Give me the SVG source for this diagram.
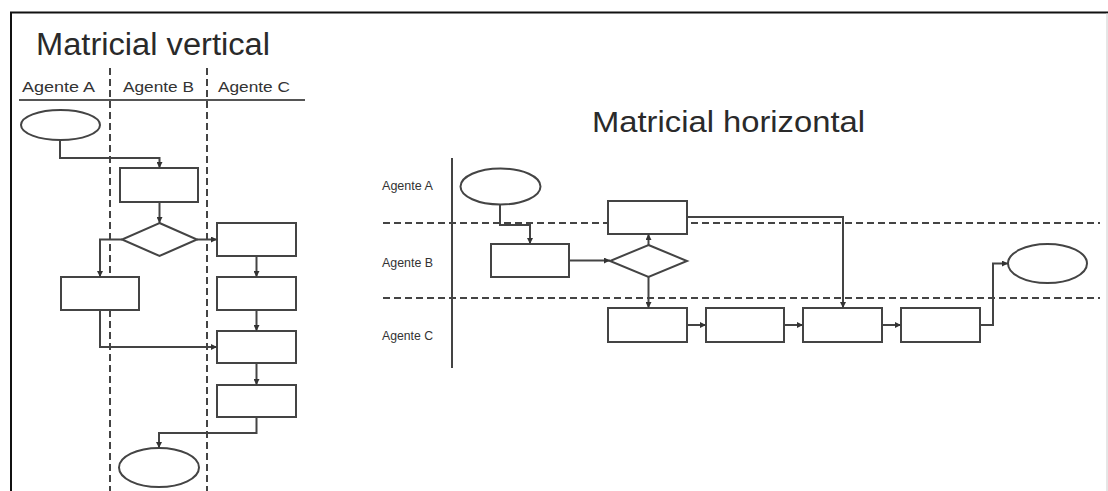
<svg xmlns="http://www.w3.org/2000/svg" width="1108" height="491" viewBox="0 0 1108 491">
<defs>
<marker id="arr" viewBox="0 0 8 8" refX="8" refY="4" markerWidth="6" markerHeight="6" markerUnits="userSpaceOnUse" orient="auto">
<path d="M0,0 L8,4 L0,8 z" fill="#333"/>
</marker>
<style>
.shape{fill:#fff;stroke:#444;stroke-width:2}
.conn{fill:none;stroke:#444;stroke-width:2;marker-end:url(#arr)}
.dash{stroke:#444;stroke-width:2;stroke-dasharray:7 4}
.title{font-family:"Liberation Sans",Arial,sans-serif;fill:#2a2a2a}
.lbl{font-family:"Liberation Sans",Arial,sans-serif;fill:#333}
</style>
</defs>
<rect width="1108" height="491" fill="#fff"/>
<!-- frame -->
<line x1="10" y1="12.5" x2="1108" y2="12.5" stroke="#111" stroke-width="2"/>
<line x1="11" y1="12" x2="11" y2="491" stroke="#111" stroke-width="2"/>
<line x1="1107" y1="13" x2="1107" y2="491" stroke="#ccc" stroke-width="1"/>

<!-- Matricial vertical -->
<g id="lanes-vertical">
<text class="title" x="36" y="55" font-size="31" textLength="234" lengthAdjust="spacingAndGlyphs">Matricial vertical</text>
<text class="lbl" x="22" y="92" font-size="15" textLength="73" lengthAdjust="spacingAndGlyphs">Agente A</text>
<text class="lbl" x="123" y="92" font-size="15" textLength="71" lengthAdjust="spacingAndGlyphs">Agente B</text>
<text class="lbl" x="218" y="92" font-size="15" textLength="72" lengthAdjust="spacingAndGlyphs">Agente C</text>
<line x1="19" y1="100" x2="305" y2="100" stroke="#555" stroke-width="2"/>
<line class="dash" x1="110" y1="68" x2="110" y2="491"/>
<line class="dash" x1="207" y1="68" x2="207" y2="491"/>
</g>
<g id="v-start"><ellipse class="shape" cx="60.5" cy="125" rx="39.5" ry="15"/></g>
<g id="v-b1"><rect class="shape" x="120" y="168" width="78" height="34"/></g>
<g id="v-d1"><polygon class="shape" points="159.5,223 197,239.5 159.5,256 122,239.5"/></g>
<g id="v-a1"><rect class="shape" x="61" y="277" width="78" height="33"/></g>
<g id="v-c1"><rect class="shape" x="217" y="223" width="79" height="33"/></g>
<g id="v-c2"><rect class="shape" x="217" y="277" width="79" height="33"/></g>
<g id="v-c3"><rect class="shape" x="217" y="331" width="79" height="32"/></g>
<g id="v-c4"><rect class="shape" x="217" y="385" width="79" height="32"/></g>
<g id="v-end"><ellipse class="shape" cx="159" cy="467.5" rx="40" ry="19.5"/></g>

<!-- Matricial horizontal -->
<g id="lanes-horizontal">
<text class="title" x="592" y="132" font-size="29" textLength="273" lengthAdjust="spacingAndGlyphs">Matricial horizontal</text>
<text class="lbl" x="382" y="190" font-size="12" textLength="51" lengthAdjust="spacingAndGlyphs">Agente A</text>
<text class="lbl" x="382" y="267" font-size="12" textLength="51" lengthAdjust="spacingAndGlyphs">Agente B</text>
<text class="lbl" x="382" y="340" font-size="12" textLength="51" lengthAdjust="spacingAndGlyphs">Agente C</text>
<line x1="452" y1="158" x2="452" y2="368" stroke="#444" stroke-width="2"/>
<line class="dash" x1="383" y1="223" x2="1100" y2="223"/>
<line class="dash" x1="383" y1="298" x2="1100" y2="298"/>
</g>
<g id="h-start"><ellipse class="shape" cx="500.5" cy="186.5" rx="40" ry="18"/></g>
<g id="h-b1"><rect class="shape" x="491" y="244" width="78" height="33"/></g>
<g id="h-d1"><polygon class="shape" points="648.5,245 687,261 648.5,277 610,261"/></g>
<g id="h-a1"><rect class="shape" x="608" y="201" width="79" height="33"/></g>
<g id="h-c1"><rect class="shape" x="608" y="308" width="79" height="34"/></g>
<g id="h-c2"><rect class="shape" x="706" y="308" width="78" height="34"/></g>
<g id="h-c3"><rect class="shape" x="803" y="308" width="79" height="34"/></g>
<g id="h-c4"><rect class="shape" x="901" y="308" width="79" height="34"/></g>
<g id="h-end"><ellipse class="shape" cx="1047.5" cy="263.5" rx="39.5" ry="19.5"/></g>

<g id="connectors">
<!-- vertical -->
<path class="conn" d="M60,140 V158 H159.5 V168"/>
<path class="conn" d="M159.5,202 V223"/>
<path class="conn" d="M122,239.5 H100 V277"/>
<path class="conn" d="M197,239.5 H217"/>
<path class="conn" d="M256.5,256 V277"/>
<path class="conn" d="M256.5,310 V331"/>
<path class="conn" d="M100,310 V347 H217"/>
<path class="conn" d="M256.5,363 V385"/>
<path class="conn" d="M256.5,417 V433 H159 V448"/>
<!-- horizontal -->
<path class="conn" d="M500,204.5 V225 H530 V244"/>
<path class="conn" d="M569,260.5 H610"/>
<path class="conn" d="M648.5,245 V234"/>
<path class="conn" d="M648.5,277 V308"/>
<path class="conn" d="M687,325 H706"/>
<path class="conn" d="M784,325 H803"/>
<path class="conn" d="M882,325 H901"/>
<path class="conn" d="M687,217 H843 V308"/>
<path class="conn" d="M980,325 H993 V263.5 H1008"/>
</g>
</svg>
